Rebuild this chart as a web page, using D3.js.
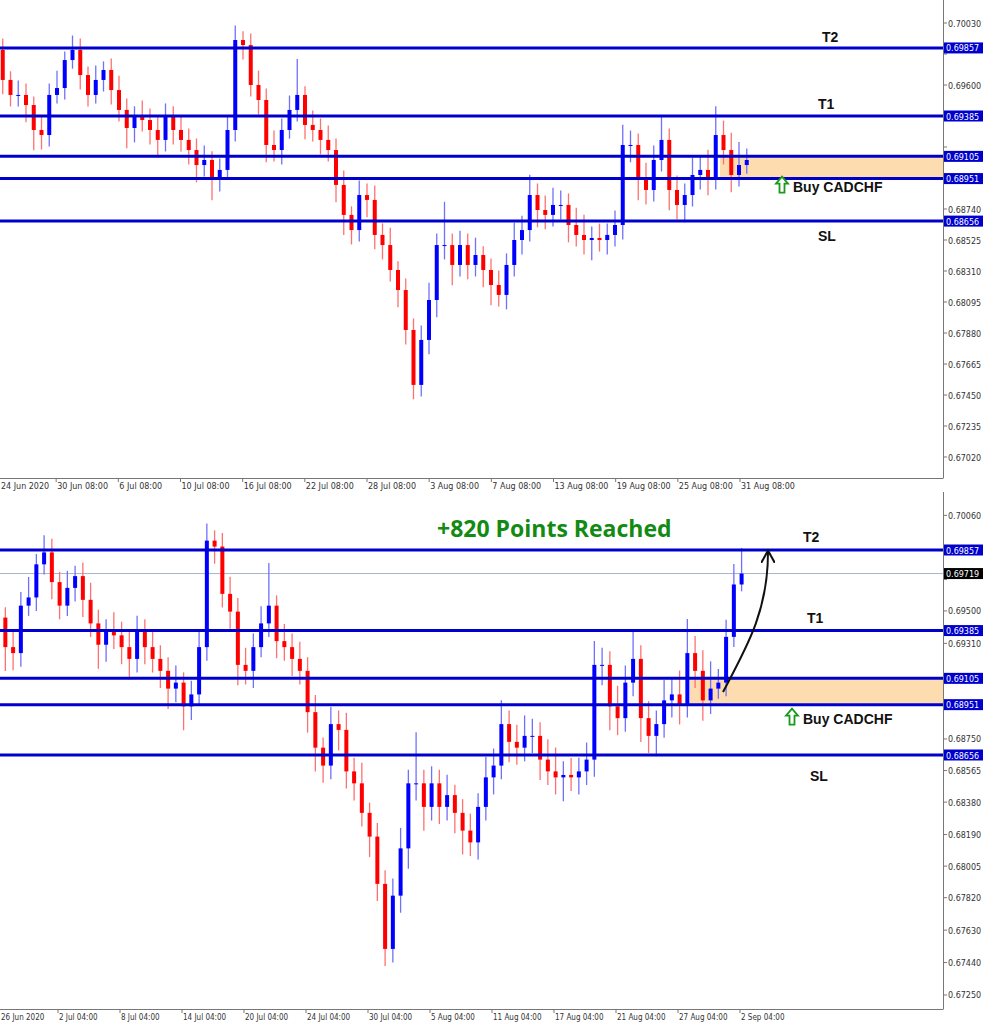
<!DOCTYPE html>
<html><head><meta charset="utf-8">
<script src="https://cdn.jsdelivr.net/npm/d3@7"></script>
<style>body{margin:0;background:#fff}</style></head>
<body><svg id="c" width="983" height="1024"></svg>
<script>
// 12-hour bars starting 24 Jun 2020
const closes = [0.69843,0.69635,0.69531,0.69531,0.69461,0.69288,0.69253,0.69531,0.69579,0.69773,
0.69843,0.69669,0.69531,0.69635,0.69704,0.69565,0.69427,0.69302,0.69392,0.69357,
0.69288,0.69219,0.69392,0.69288,0.69219,0.69149,0.69045,0.69080,0.68941,0.69011,
0.69288,0.69912,0.69877,0.69600,0.69496,0.69184,0.69149,0.69288,0.69427,0.69531,
0.69323,0.69288,0.69219,0.69149,0.68907,0.68699,0.68594,0.68837,0.68803,0.68560,
0.68490,0.68317,0.68178,0.67901,0.67520,0.67832,0.68109,0.68490,0.68490,0.68352,
0.68490,0.68352,0.68421,0.68317,0.68213,0.68144,0.68352,0.68525,0.68594,0.68837,
0.68733,0.68699,0.68768,0.68768,0.68629,0.68560,0.68525,0.68539,0.68525,0.68560,
0.68629,0.69184,0.69184,0.68941,0.68872,0.69080,0.69219,0.68872,0.68768,0.68837,
0.68976,0.69011,0.68955,0.69253,0.69149,0.68976,0.69045,0.69080,0.69348,0.69655,0.69719];
const firstOpen = 0.69900;
// wick extension above body / below body, in pips
const hiExt = [6,8,6,10,8,6,10,8,12,6, 10,8,6,10,6,8,10,8,6,10, 8,10,8,6,10,8,8,10,6,8,
10,10,6,8,10,8,10,8,10,25, 6,10,8,10,8,10,6,10,8,10, 8,12,6,8,8,10,12,8,30,8,
10,8,12,6,8,10,8,12,10,14, 8,10,12,10,8,12,14,8,10,8, 10,14,10,8,12,10,16,8,10,8,
12,10,14,20,10,12,16,8,10,12,15];
const loExt = [6,10,8,8,12,14,10,8,6,8, 6,10,8,6,8,10,8,14,10,8, 10,12,8,10,8,10,12,8,14,8,
6,8,10,8,10,12,8,10,6,8, 10,8,10,8,12,14,10,8,12,10, 10,8,12,10,10,8,10,12,10,14,
8,10,8,12,14,8,10,8,10,8, 12,10,8,10,12,8,10,14,8,10, 8,10,12,14,10,8,8,14,10,12,
8,10,12,8,10,12,8,6,8,6,4];
const levels = [0.69857,0.69385,0.69105,0.68951,0.68656];
const topTicks = [0.70030,0.69815,0.69600,0.69385,0.69170,0.68955,0.68740,0.68525,0.68310,0.68095,0.67880,0.67665,0.67450,0.67235,0.67020];
const botTicks = [0.70060,0.69875,0.69685,0.69500,0.69310,0.69125,0.68940,0.68750,0.68565,0.68380,0.68190,0.68005,0.67820,0.67630,0.67440,0.67250];
const topDates = ["24 Jun 2020","30 Jun 08:00","6 Jul 08:00","10 Jul 08:00","16 Jul 08:00","22 Jul 08:00","28 Jul 08:00","3 Aug 08:00","7 Aug 08:00","13 Aug 08:00","19 Aug 08:00","25 Aug 08:00","31 Aug 08:00"];
const botDates = ["26 Jun 2020","2 Jul 04:00","8 Jul 04:00","14 Jul 04:00","20 Jul 04:00","24 Jul 04:00","30 Jul 04:00","5 Aug 04:00","11 Aug 04:00","17 Aug 04:00","21 Aug 04:00","27 Aug 04:00","2 Sep 04:00"];
const currentPrice = 0.69719;

const bars = closes.map((c,i)=>{
  const o = i===0?firstOpen:closes[i-1];
  return {i,o,c,h:Math.max(o,c)+hiExt[i]/10000,l:Math.min(o,c)-loExt[i]/10000};
});
const svg = d3.select("#c");
const W = 943;
function panel(cfg){
  const g = svg.append("g");
  const y = d3.scaleLinear().domain(cfg.yd).range(cfg.yr);
  const x = d3.scaleLinear().domain([0,100]).range(cfg.xr);
  const tk = d3.scaleLinear().domain([0,12]).range(cfg.tr);
  const cid = "clip"+cfg.id;
  svg.append("clipPath").attr("id",cid).append("rect").attr("x",0).attr("y",cfg.top).attr("width",W).attr("height",cfg.bottom-cfg.top);
  const p = g.append("g").attr("clip-path",`url(#${cid})`);
  p.append("rect").attr("x",cfg.zoneX).attr("width",W-cfg.zoneX).attr("y",y(levels[2])).attr("height",y(levels[3])-y(levels[2])).attr("fill","#fddcb0");
  if(cfg.cur) p.append("line").attr("x1",0).attr("x2",W).attr("y1",y(currentPrice)).attr("y2",y(currentPrice)).attr("stroke","#a8b4c8").attr("stroke-width",1);
  const bb = bars.filter(b=>b.i<=cfg.last);
  p.selectAll(".w").data(bb).join("line").attr("x1",d=>x(d.i)).attr("x2",d=>x(d.i)).attr("y1",d=>y(d.h)).attr("y2",d=>y(d.l))
    .attr("stroke",d=>d.c>=d.o?"#7070ff":"#ff7070").attr("stroke-width",1.3);
  p.selectAll(".b").data(bb).join("rect").attr("x",d=>x(d.i)-2).attr("width",4)
    .attr("y",d=>y(Math.max(d.o,d.c))).attr("height",d=>Math.max(1,Math.abs(y(d.o)-y(d.c))))
    .attr("fill",d=>d.c>=d.o?"#0000ff":"#ff0000");
  levels.forEach(l=>p.append("line").attr("x1",0).attr("x2",W).attr("y1",y(l)).attr("y2",y(l)).attr("stroke","#0000cc").attr("stroke-width",3));
  g.append("line").attr("x1",W+0.5).attr("x2",W+0.5).attr("y1",cfg.top-8).attr("y2",cfg.bottom).attr("stroke","#777");
  g.append("line").attr("x1",0).attr("x2",W+0.5).attr("y1",cfg.bottom+0.5).attr("y2",cfg.bottom+0.5).attr("stroke","#777");
  const tagged = levels.map(l=>({v:l,bg:"#0000cc"}));
  if(cfg.cur) tagged.push({v:currentPrice,bg:"#000"});
  cfg.ticks.forEach(t=>{
    g.append("line").attr("x1",W).attr("x2",W+4).attr("y1",y(t)).attr("y2",y(t)).attr("stroke","#777");
    if(tagged.some(q=>Math.abs(y(q.v)-y(t))<11)) return;
    g.append("text").attr("x",W+5).attr("y",y(t)+3.5).text(t.toFixed(5)).attr("font-family","DejaVu Sans").attr("font-size",8).attr("fill","#333");
  });
  tagged.forEach(t=>{
    g.append("rect").attr("x",W+1).attr("y",y(t.v)-5.5).attr("width",40).attr("height",11).attr("fill",t.bg);
    g.append("text").attr("x",W+3).attr("y",y(t.v)+3.5).text(t.v.toFixed(5)).attr("font-family","DejaVu Sans").attr("font-size",8).attr("fill","#fff");
  });
  cfg.dates.forEach((d,k)=>{
    const xx = tk(k);
    g.append("line").attr("x1",xx).attr("x2",xx).attr("y1",cfg.bottom).attr("y2",cfg.bottom+4).attr("stroke","#777");
    g.append("text").attr("x",Math.max(1,xx+1)).attr("y",cfg.bottom+11).text(d).attr("font-family",cfg.dfont).attr("font-size",cfg.dsize).attr("fill","#333");
  });
  const lab=(t,xx,yy,s)=>g.append("text").attr("x",xx).attr("y",yy).text(t).attr("font-family","Liberation Sans, Arial").attr("font-weight","bold").attr("font-size",s||14).attr("fill","#111");
  lab("T2",cfg.t2[0],y(levels[0])-cfg.t2[1]);
  lab("T1",cfg.t1[0],y(levels[1])-cfg.t1[1]);
  lab("SL",cfg.sl[0],y(levels[4])+cfg.sl[1]);
  const bx=cfg.buy[0], by=y(levels[3])+cfg.buy[1];
  g.append("path").attr("d",`M${bx},${by-15} l-6,7 h3.5 v9 h5 v-9 h3.5 z`).attr("fill","#fff").attr("stroke","#1a9a1a").attr("stroke-width",1.8);
  lab("Buy CADCHF",bx+11,by,14);
  return {x,y,g};
}
panel({id:"t",yd:[0.70030,0.67020],yr:[23,457],xr:[-5,770],tr:[-6,740],top:0,bottom:478,zoneX:720,ticks:topTicks,dates:topDates,last:97,
  dfont:"DejaVu Sans",dsize:8,t2:[822,6],t1:[818,7],sl:[818,20],buy:[782,13]});
panel({id:"b",yd:[0.69857,0.68656],yr:[550,755],xr:[-33.4,741.6],tr:[-4,740],top:500,bottom:1009,zoneX:690,ticks:botTicks,dates:botDates,last:100,cur:true,
  dfont:"Liberation Sans Narrow, DejaVu Sans Condensed",dsize:8,t2:[803,8],t1:[807,8],sl:[810,26],buy:[792,19]});
svg.append("text").attr("x",437).attr("y",537).text("+820 Points Reached").attr("font-family","Open Sans, DejaVu Sans").attr("font-weight","bold").attr("font-size",23).attr("fill","#138a13");
svg.append("defs").append("marker").attr("id","ah").attr("viewBox","0 0 10 10").attr("refX",8).attr("refY",5).attr("markerWidth",7).attr("markerHeight",7).attr("orient","auto")
  .append("path").attr("d","M0,0 L9,5 L0,10").attr("fill","none").attr("stroke","#111").attr("stroke-width",1.5);
svg.append("path").attr("d","M723,692 C748,645 768,610 768,552").attr("fill","none").attr("stroke","#111").attr("stroke-width",2).attr("marker-end","url(#ah)");
</script></body></html>
